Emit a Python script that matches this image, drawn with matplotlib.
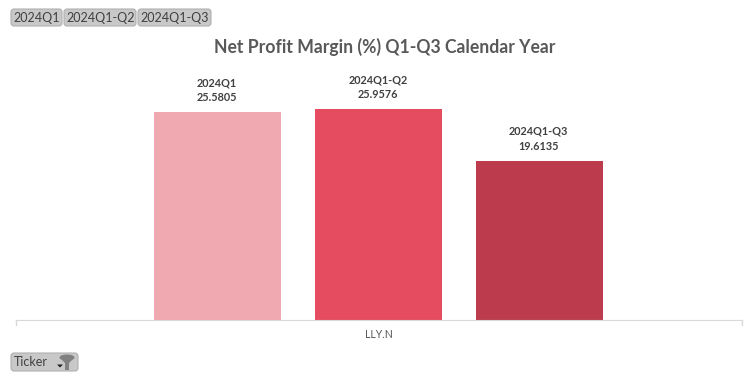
import matplotlib
matplotlib.use('Agg')
import matplotlib.pyplot as plt
from matplotlib.patches import FancyBboxPatch, Polygon, Ellipse

plt.rcParams['font.family'] = ['Lato', 'DejaVu Sans']

periods = ['2024Q1', '2024Q1-Q2', '2024Q1-Q3']
margins = [25.5805, 25.9576, 19.6135]
value_labels = ['25.5805', '25.9576', '19.6135']
colors = ['#F0A9B0', '#E64C60', '#BC3C4E']
ticker = 'LLY.N'

W, H = 756, 378
fig = plt.figure(figsize=(W / 100, H / 100), dpi=100)


def px_rect(l, t, r, b):
    return [l / W, 1 - b / H, (r - l) / W, (b - t) / H]


ax = fig.add_axes(px_rect(16, 60, 742, 320))
x = [-1, 0, 1]
x_left, x_right = -362.5 / 161, 363.5 / 161
ax.bar(x, margins, width=127 / 161, color=colors)
ax.set_xlim(x_left, x_right)
ax.set_ylim(0, 260 / 8.13)
ax.set_yticks([])
ax.set_xticks([])
for s in ['top', 'left', 'right']:
    ax.spines[s].set_visible(False)
ax.spines['bottom'].set_color('#D9D9D9')
ax.plot([x_left, x_left], [0, -0.6], color='#D9D9D9', lw=1, clip_on=False)
ax.plot([x_right, x_right], [0, -0.6], color='#D9D9D9', lw=1, clip_on=False)
ax.text(0, -1.8, ticker, ha='center', va='center', fontsize=7.6, color='#595959')

for xi, m, p, v in zip(x, margins, periods, value_labels):
    ax.annotate(p + '\n' + v, (xi, m), xytext=(-0.5, 6.3), textcoords='offset points',
                ha='center', va='bottom', fontsize=7.8, fontweight='bold',
                color='#404040', linespacing=1.45)

fig.text(384.5 / W, 1 - 47 / H, 'Net Profit Margin (%) Q1-Q3 Calendar Year', ha='center', va='center',
         fontsize=12.7, fontweight='bold', color='#595959')

# slicer style buttons, drawn in pixel coordinates
over = fig.add_axes([0, 0, 1, 1], facecolor='none')
over.set_xlim(0, W)
over.set_ylim(H, 0)
over.axis('off')


def button(l, t, r, b, label):
    over.add_patch(FancyBboxPatch((l + 3, t + 3), r - l - 6, b - t - 6,
                                  boxstyle='round,pad=3,rounding_size=3',
                                  fc='#C8C8C8', ec='#B0B0B0', lw=0.8))
    over.text(l + 2.5, (t + b) / 2, label, ha='left', va='center', fontsize=9, color='#404040')


button(11, 9, 62, 26, periods[0])
button(64, 9, 136, 26, periods[1])
button(138, 9, 211, 26, periods[2])
button(11, 353, 78, 371, 'Ticker')

# filter icon on the Ticker button
over.add_patch(Ellipse((67, 357.5), 15, 6, fc='#808080', ec='none'))
over.add_patch(Polygon([(60, 358), (74, 358), (69, 363), (69, 370), (65, 370), (65, 363)],
                       closed=True, fc='#808080', ec='none'))
over.add_patch(Polygon([(57, 364.5), (63, 364.5), (60, 367.5)], closed=True, fc='#202020', ec='none'))

fig.savefig('out.png', dpi=100)
